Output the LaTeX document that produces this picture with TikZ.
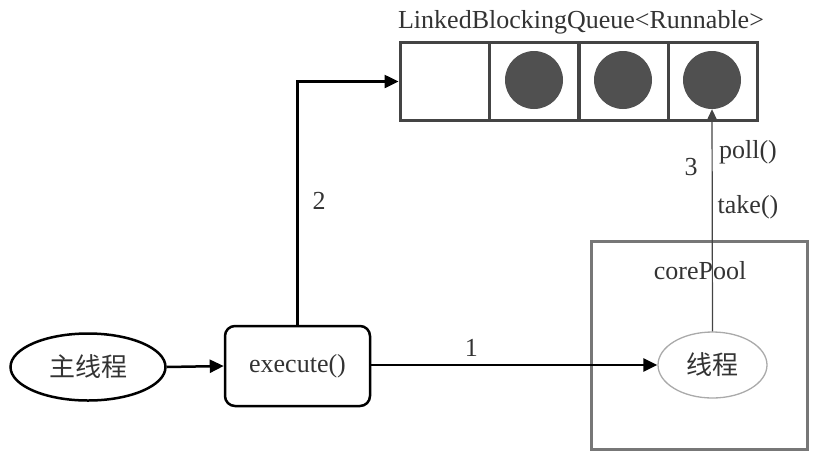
\documentclass[tikz,border=0pt]{standalone}
\usepackage{fontspec}
\setmainfont{Liberation Serif}
\newfontfamily\cjk{Noto Sans CJK SC}
\usetikzlibrary{arrows.meta,shapes.geometric}
\definecolor{txt}{HTML}{333333}
\definecolor{qline}{HTML}{444444}
\definecolor{ball}{HTML}{505050}
\definecolor{pool}{HTML}{777777}
\definecolor{thr}{HTML}{AAAAAA}
\tikzset{
  cell/.style={draw=qline, line width=3pt, minimum width=89pt, minimum height=78pt, inner sep=0pt},
  ballnode/.style={circle, fill=ball, minimum size=58pt, inner sep=0pt},
  thick arrow/.style={line width=2.5pt, -{Triangle[length=14pt,width=13pt]}},
  lbl/.style={text=txt, inner sep=1pt},
}
\begin{document}
\begin{tikzpicture}[x=1pt,y=-1pt, font=\fontsize{26}{30}\selectfont]
\useasboundingbox (0,0) rectangle (824,464);
% queue
\node[cell] (q1) at (444.5,81.5) {};
\node[cell] (q2) at (534,81.5) {};
\node[cell] (q3) at (623.5,81.5) {};
\node[cell] (q4) at (712.5,81.5) {};
\node[ballnode] (b2) at (534,80) {};
\node[ballnode] (b3) at (623,80) {};
\node[ballnode] (b4) at (712,80) {};
\node[lbl] (title) at (581,22) {LinkedBlockingQueue<Runnable>};
% corePool
\node[draw=pool, line width=3pt, minimum width=216pt, minimum height=208pt, inner sep=0pt] (pool) at (699.5,345) {};
\node[lbl] (pl) at (700,271) {corePool};
% nodes
\node[ellipse, draw=black, line width=2.5pt, minimum width=155pt, minimum height=67pt, inner sep=0pt, text=txt] (main) at (88,367) {\cjk 主线程};
\node[draw=black, line width=2.5pt, rounded corners=10pt, minimum width=145pt, minimum height=80pt, inner sep=0pt, text=txt] (exec) at (297.5,366) {execute()};
\node[ellipse, draw=thr, line width=1.3pt, minimum width=109pt, minimum height=66pt, inner sep=0pt, text=txt, fill=white] (th) at (712.5,365) {\cjk 线程};
% connectors
\draw[thick arrow] (main.east) -- (exec.west);
\draw[thick arrow] (exec.east |- th.west) -- node[lbl, above=6pt, pos=0.35] (l1) {1} (th.west);
\draw[thick arrow] (exec.north) |- (q1.west);
\node[lbl] (l2) at (319,201) {2};
\draw[qline, line width=1.2pt, -{Triangle[length=12pt,width=11pt]}] (th.north) -- (b4.south);
\node[lbl] (l3) at (691,167) {3};
\node[lbl] (lp) at (748,152) {poll()};
\node[lbl] (lt) at (748,207) {take()};
\end{tikzpicture}
\end{document}
